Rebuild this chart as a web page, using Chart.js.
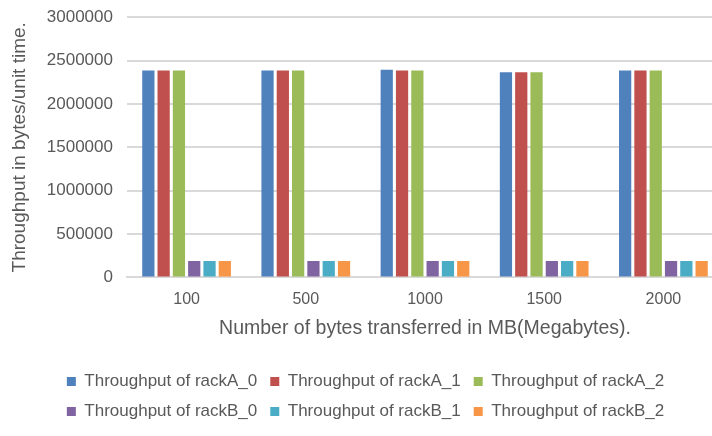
<!DOCTYPE html>
<html>
<head>
<meta charset="utf-8">
<script src="https://cdn.jsdelivr.net/npm/chart.js@4"></script>
<style>
  html, body { margin: 0; padding: 0; background: #fff; overflow: hidden; }
  #wrap { position: absolute; left: 0; top: -7px; width: 740px; height: 443px; }
</style>
</head>
<body>
<div id="wrap"><canvas id="c"></canvas></div>
<script>
// Transfer sizes (MB) on the x axis
const categories = ['100', '500', '1000', '1500', '2000'];

// Throughput per rack node, bytes per unit time
const rackA_0 = [2385000, 2385000, 2395000, 2365000, 2385000];
const rackA_1 = [2385000, 2385000, 2385000, 2365000, 2385000];
const rackA_2 = [2385000, 2385000, 2385000, 2365000, 2385000];
const rackB_0 = [190000, 190000, 190000, 190000, 190000];
const rackB_1 = [190000, 190000, 190000, 190000, 190000];
const rackB_2 = [190000, 190000, 190000, 190000, 190000];

// Value axis ticks
const yTicks = [0, 500000, 1000000, 1500000, 2000000, 2500000, 3000000];

const seriesNames = [
  'Throughput of rackA_0', 'Throughput of rackA_1', 'Throughput of rackA_2',
  'Throughput of rackB_0', 'Throughput of rackB_1', 'Throughput of rackB_2'
];
const seriesData = [rackA_0, rackA_1, rackA_2, rackB_0, rackB_1, rackB_2];
const seriesColors = ['#4F81BD', '#C0504D', '#9BBB59', '#8064A2', '#4BACC6', '#F79646'];

const textColor = '#595959';
const fontFamily = '"Liberation Sans", Arial, sans-serif';

new Chart(document.getElementById('c'), {
  type: 'bar',
  data: {
    labels: categories,
    datasets: seriesData.map((d, i) => ({
      label: seriesNames[i],
      data: d,
      backgroundColor: seriesColors[i],
      borderWidth: 0,
      categoryPercentage: 0.77,
      barPercentage: 0.8
    }))
  },
  options: {
    responsive: true,
    maintainAspectRatio: false,
    animation: false,
    layout: { padding: { top: 0, right: 17, left: 8, bottom: 6 } },
    plugins: {
      tooltip: { enabled: false },
      legend: {
        position: 'bottom',
        align: 'center',
        labels: {
          color: textColor,
          font: { family: fontFamily, size: 17 },
          boxWidth: 9,
          boxHeight: 9,
          padding: 13
        }
      }
    },
    scales: {
      x: {
        grid: { display: false, drawTicks: false },
        border: { color: '#d9d9d9', width: 2 },
        ticks: { color: textColor, font: { family: fontFamily, size: 16 }, padding: 13 },
        title: {
          display: true,
          text: 'Number of bytes transferred in MB(Megabytes).',
          color: textColor,
          font: { family: fontFamily, size: 19.5 },
          padding: { top: -6, bottom: 20 }
        }
      },
      y: {
        min: yTicks[0],
        max: yTicks[yTicks.length - 1],
        afterBuildTicks: (axis) => { axis.ticks = yTicks.map(v => ({ value: v })); },
        ticks: {
          color: textColor,
          font: { family: fontFamily, size: 17 },
          padding: 14,
          callback: (v) => String(v)
        },
        grid: { color: '#d9d9d9', lineWidth: 2, drawTicks: false },
        border: { display: false },
        title: {
          display: true,
          text: 'Throughput in bytes/unit time.',
          color: textColor,
          font: { family: fontFamily, size: 19 },
          padding: { top: 0, bottom: 2 }
        }
      }
    }
  }
});
</script>
</body>
</html>
